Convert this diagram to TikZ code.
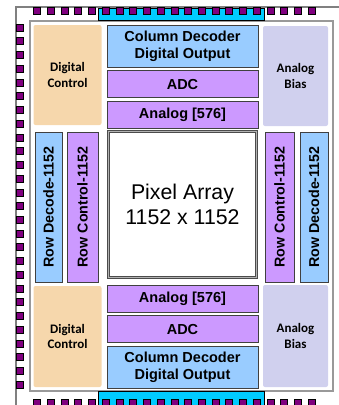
\documentclass[tikz,border=0pt]{standalone}
\usepackage{fontspec}
\setmainfont{Liberation Sans}
\newfontfamily\calibfont{Carlito}
\usetikzlibrary{positioning}

\definecolor{padpurple}{HTML}{7F007F}
\definecolor{padcyan}{HTML}{00CCFF}
\definecolor{decblue}{HTML}{99CCFF}
\definecolor{adcpurple}{HTML}{CC99FF}
\definecolor{ctrlbeige}{HTML}{F6D7AC}
\definecolor{biaslav}{HTML}{D0D0EE}

\tikzset{
  blk/.style={draw=black!75, line width=0.8pt, inner sep=0pt, align=center,
    font=\bfseries\fontsize{14.5}{17}\selectfont},
  blueblk/.style={blk, fill=decblue},
  purpleblk/.style={blk, fill=adcpurple},
  rowblk/.style={blk, rotate=90, minimum width=150pt, font=\bfseries\fontsize{14.3}{17}\selectfont},
  sideblk/.style={inner sep=0pt, rounded corners=2pt, align=center,
    font=\calibfont\bfseries\fontsize{13}{15.6}\selectfont},
  pad/.style={draw=black, fill=padpurple, minimum size=7pt, inner sep=0pt, line width=0.5pt},
  padbar/.style={draw=black, fill=padcyan, line width=0.5pt},
}

\begin{document}
\begin{tikzpicture}[x=1pt,y=-1pt]
  \useasboundingbox (0,0) rectangle (338,405);
  % chip edge and core ring
  \draw[gray, line width=1.2pt] (16,410) -- (16,7) -- (345,7);
  \draw[gray!80, line width=1.4pt] (30,21) rectangle (333,391);
  \draw[padbar] (98,8) rectangle (264,20.5);
  \draw[padbar] (98,391) rectangle (264,410);

  % pads
  \foreach \i in {0,...,20}{
    \node[pad] (padT\i) at (37+13.73*\i,11) {};
    \node[pad] (padB\i) at (37+13.73*\i,403) {};
  }
  \foreach \j in {0,...,26}
    \node[pad] (padL\j) at (20,27.5+13.73*\j) {};

  % top periphery
  \node[sideblk, fill=ctrlbeige, minimum width=68pt, minimum height=100pt] (ctrlT) at (67.5,75) {Digital\\Control};
  \node[blueblk, minimum width=151pt, minimum height=42pt] (coldecT) at (182.5,46) {Column Decoder\\Digital Output};
  \node[purpleblk, minimum width=151pt, minimum height=27pt, below=3pt of coldecT] (adcT) {ADC};
  \node[purpleblk, minimum width=151pt, minimum height=27pt, below=3pt of adcT] (anaT) {Analog [576]};
  \node[sideblk, fill=biaslav, minimum width=65pt, minimum height=100pt] (biasT) at (295.5,76) {Analog\\Bias};

  % array and row drivers
  \node[draw=black!70, double=black!30, double distance=1.6pt, line width=0.6pt,
    minimum width=148pt, minimum height=146pt, inner sep=0pt, align=center,
    font=\fontsize{21.3}{25}\selectfont] (pixel) at (182.5,204.5) {Pixel Array\\1152 x 1152};
  \node[rowblk, fill=decblue, minimum height=27pt] (rdecL) at (48.5,207) {Row Decode-1152};
  \node[rowblk, fill=adcpurple, minimum height=31pt] (rctlL) at (82.5,207) {Row Control-1152};
  \node[rowblk, fill=adcpurple, minimum height=29pt] (rctlR) at (279.5,207) {Row Control-1152};
  \node[rowblk, fill=decblue, minimum height=28pt] (rdecR) at (314,207) {Row Decode-1152};

  % bottom periphery
  \node[sideblk, fill=ctrlbeige, minimum width=68pt, minimum height=101pt] (ctrlB) at (67.5,336.5) {Digital\\Control};
  \node[purpleblk, minimum width=151pt, minimum height=27pt] (anaB) at (182.5,298.5) {Analog [576]};
  \node[purpleblk, minimum width=151pt, minimum height=27pt, below=3pt of anaB] (adcB) {ADC};
  \node[blueblk, minimum width=151pt, minimum height=42pt, below=3pt of adcB] (coldecB) {Column Decoder\\Digital Output};
  \node[sideblk, fill=biaslav, minimum width=65pt, minimum height=102pt] (biasB) at (295.5,336) {Analog\\Bias};
\end{tikzpicture}
\end{document}
